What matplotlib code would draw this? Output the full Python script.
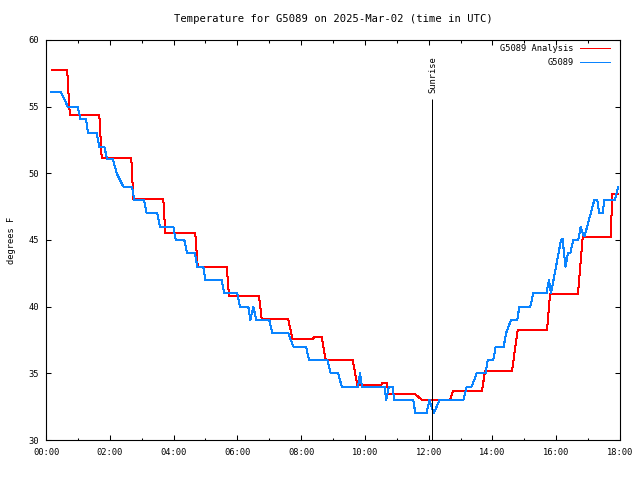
import matplotlib
matplotlib.use('Agg')
import matplotlib.pyplot as plt
from matplotlib.ticker import MultipleLocator, FuncFormatter

plt.rcParams['font.family'] = 'DejaVu Sans Mono'
plt.rcParams['font.size'] = 6.3

# station obs (hours UTC, deg F)
obs_hours = [0.157, 0.470, 0.680, 0.994, 1.076, 1.254, 1.317, 1.590, 1.671, 1.828,
             1.913, 2.092, 2.217, 2.424, 2.697, 2.769, 3.073, 3.158, 3.490, 3.575,
             3.992, 4.067, 4.337, 4.422, 4.672, 4.745, 4.933, 4.995, 5.510, 5.591,
             5.999, 6.083, 6.344, 6.407, 6.501, 6.595, 7.002, 7.096, 7.598, 7.755,
             8.153, 8.247, 8.821, 8.928, 9.166, 9.273, 9.784, 9.847, 9.909, 10.615,
             10.671, 10.750, 10.866, 10.922, 11.518, 11.581, 11.932, 12.026, 12.158, 12.340,
             13.086, 13.193, 13.349, 13.506, 13.782, 13.851, 14.027, 14.102, 14.353, 14.425,
             14.582, 14.780, 14.842, 15.187, 15.281, 15.695, 15.773, 15.836, 16.150, 16.197,
             16.291, 16.369, 16.441, 16.535, 16.692, 16.767, 16.860, 16.890, 17.194, 17.288,
             17.350, 17.457, 17.507, 17.843, 17.946]
obs_temp = [56.1, 56.1, 55.0, 55.0, 54.1, 54.1, 53.0, 53.0, 52.0, 52.0,
            51.1, 51.1, 50.0, 49.0, 49.0, 48.0, 48.0, 47.0, 47.0, 46.0,
            46.0, 45.0, 45.0, 44.0, 44.0, 43.0, 43.0, 42.0, 42.0, 41.0,
            41.0, 40.0, 40.0, 39.0, 40.0, 39.0, 39.0, 38.0, 38.0, 37.0,
            37.0, 36.0, 36.0, 35.0, 35.0, 34.0, 34.0, 35.0, 34.0, 34.0,
            33.0, 34.0, 34.0, 33.0, 33.0, 32.0, 32.0, 33.0, 32.0, 33.0,
            33.0, 34.0, 34.0, 35.0, 35.0, 36.0, 36.0, 37.0, 37.0, 38.0,
            39.0, 39.0, 40.0, 40.0, 41.0, 41.0, 42.0, 41.0, 45.0, 45.1,
            43.0, 44.0, 44.0, 45.0, 45.0, 46.0, 45.3, 45.3, 48.0, 48.0,
            47.0, 47.0, 48.0, 48.0, 49.0]

# analysis
ana_hours = [0.188, 0.659, 0.690, 0.721, 0.753, 1.671, 1.747, 2.675, 2.738, 3.678,
             3.741, 4.682, 4.757, 5.667, 5.739, 6.679, 6.764, 7.589, 7.730, 8.373,
             8.404, 8.645, 8.771, 9.618, 9.762, 10.505, 10.537, 10.693, 10.734, 11.571,
             11.791, 12.669, 12.763, 13.672, 13.767, 14.614, 14.792, 15.711, 15.805, 16.683,
             16.830, 17.708, 17.759, 17.946]
ana_temp = [57.75, 57.75, 56.85, 55.2, 54.4, 54.4, 51.15, 51.15, 48.07, 48.07,
            45.5, 45.5, 43.0, 43.0, 40.8, 40.8, 39.1, 39.1, 37.6, 37.6,
            37.7, 37.7, 36.0, 36.0, 34.1, 34.1, 34.25, 34.25, 33.45, 33.45,
            33.0, 33.0, 33.65, 33.65, 35.2, 35.2, 38.25, 38.25, 40.95, 40.95,
            45.2, 45.2, 48.45, 48.45]

sunrise = 12.12
sunrise_top = 55.6

fig = plt.figure(figsize=(6.4, 4.8), dpi=100)
ax = fig.add_axes([46/640, 40/480, 574/640, 400/480])

ax.plot(ana_hours, ana_temp, color='#ff0000', lw=0.72, label='G5089 Analysis', antialiased=False)
ax.plot(obs_hours, obs_temp, color='#0a84ff', lw=0.72, label='G5089', antialiased=False)

ax.vlines(sunrise, 30, sunrise_top, color='black', lw=0.72)
ax.text(sunrise, sunrise_top + 0.4, 'Sunrise', rotation=90, ha='center', va='bottom')

ax.set_xlim(0, 18)
ax.set_ylim(30, 60)
ax.xaxis.set_major_locator(MultipleLocator(2))
ax.xaxis.set_minor_locator(MultipleLocator(1))
ax.xaxis.set_major_formatter(FuncFormatter(lambda v, p: '%02d:00' % int(round(v))))
ax.yaxis.set_major_locator(MultipleLocator(5))
ax.tick_params(which='both', direction='in', top=True, right=True, width=0.75, pad=6)
ax.tick_params(axis='y', pad=5)
ax.tick_params(which='major', length=3.3)
ax.tick_params(which='minor', length=1.8)
for s in ax.spines.values():
    s.set_linewidth(0.8)

ax.set_ylabel('degrees F', labelpad=9)
ax.set_title('Temperature for G5089 on 2025-Mar-02 (time in UTC)', pad=13)

ax.legend(loc='upper right', bbox_to_anchor=(568/574, 1.0), frameon=False, markerfirst=False,
          handlelength=3.4, handletextpad=0.7, labelspacing=0.5, borderaxespad=0.3,
          borderpad=0.2)

fig.savefig('out.png', dpi=100)
